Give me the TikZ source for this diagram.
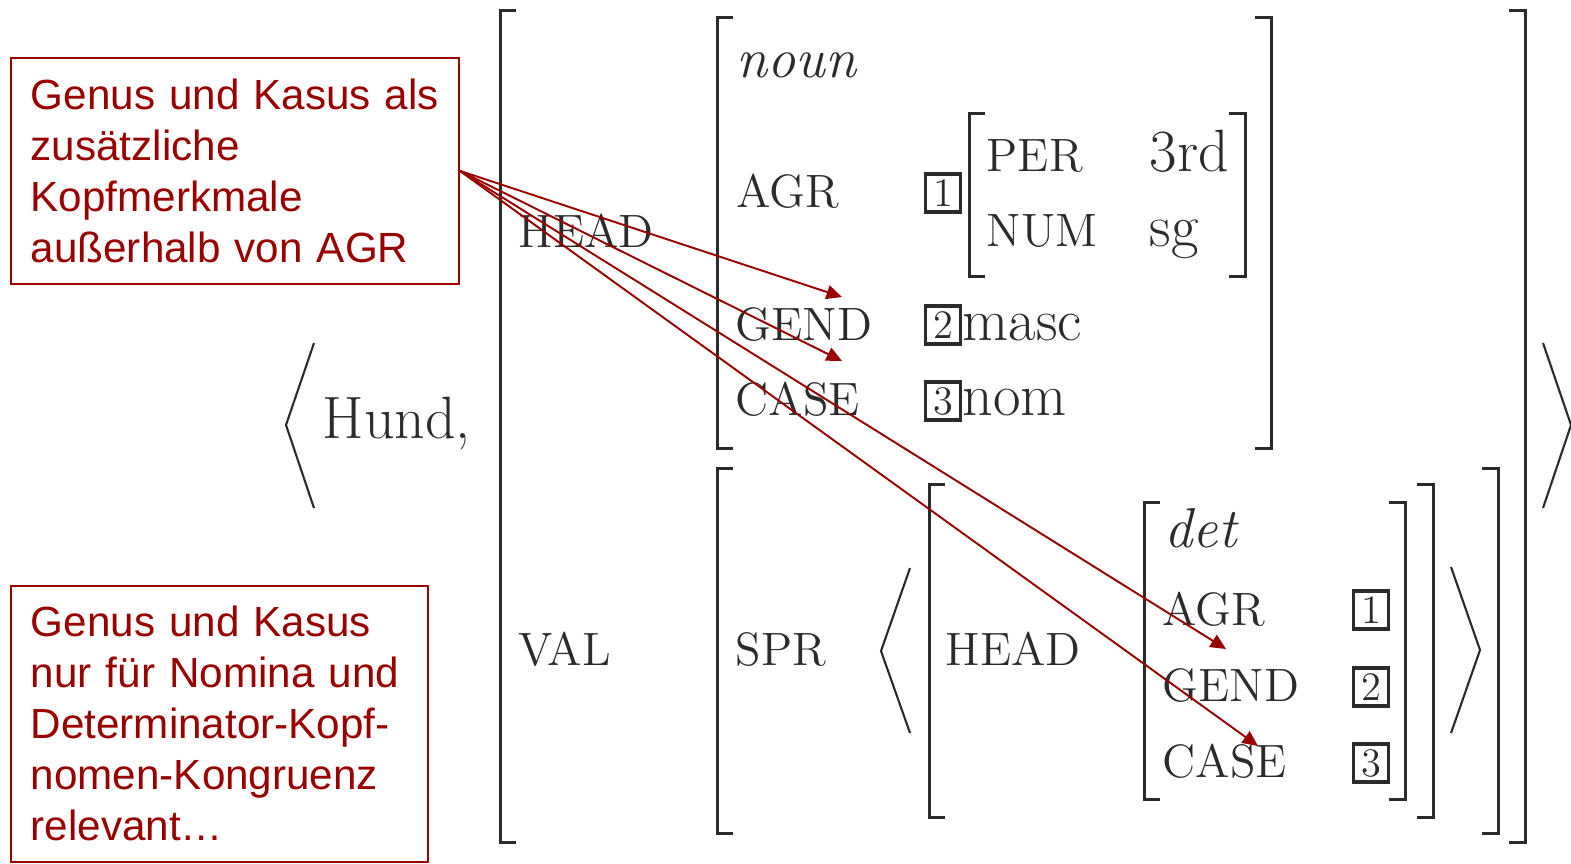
\documentclass[tikz,border=0pt]{standalone}
\usepackage{fontspec}
\newfontfamily\notefont{Liberation Sans}
\usetikzlibrary{arrows.meta}
\definecolor{notered}{HTML}{990000}
\definecolor{avmgray}{HTML}{2B2B2B}
\begin{document}
\begin{tikzpicture}[x=0.01cm,y=-0.01cm,>={Triangle[length=4.4pt,width=4pt]},
	feat/.style={inner sep=0pt,anchor=base west,text=avmgray,font=\fontsize{13.3}{16}\selectfont},
	val/.style={inner sep=0pt,anchor=base west,text=avmgray,font=\fontsize{17}{20}\selectfont},
	sort/.style={val,font=\fontsize{16}{19}\selectfont\itshape},
	tag/.style={draw=avmgray,line width=0.95pt,inner sep=0pt,minimum width=0.35cm,minimum height=0.38cm,text=avmgray,font=\fontsize{11.5}{13}\selectfont},
	brk/.style={avmgray,line width=0.85pt},
	ang/.style={avmgray,line width=0.6pt},
	note/.style={draw=notered,line width=0.45pt,text=notered,align=left,inner xsep=0.2cm,anchor=north west,font=\notefont\fontsize{12}{14.5}\selectfont},
	pointer/.style={->,notered,line width=0.55pt}]
	\useasboundingbox (0,0) rectangle (1571,863);
	% square brackets: left/right/top/bottom
	\foreach \l/\r/\t/\b in {500/1525/10/842,717/1271/17/448,969/1245/113/276,717/1498/468/833,929/1433/484/817,1144/1405/502/799}{
		\draw[brk] (\l+16,\t)--(\l,\t)--(\l,\b)--(\l+16,\b);
		\draw[brk] (\r-16,\t)--(\r,\t)--(\r,\b)--(\r-16,\b);
	}
	% angle brackets
	\draw[ang] (314,343)--(286,425)--(314,508);
	\draw[ang] (1543,343)--(1571,425)--(1543,508);
	\draw[ang] (910,568)--(881,651)--(910,733);
	\draw[ang] (1451,567)--(1480,650)--(1451,733);
	\node[val] (hund) at (322,438) {Hund,};
	\node[feat] (head) at (518,247) {HEAD};
	\node[sort] (noun) at (736,77) {noun};
	\node[feat] (agr) at (736,207) {AGR};
	\node[tag] (tagA) at (943,193) {1};
	\node[feat] (per) at (986,171) {PER};
	\node[val] (third) at (1149,171) {3rd};
	\node[feat] (num) at (986,246) {NUM};
	\node[val] (sg) at (1149,246) {sg};
	\node[feat] (gend) at (735,340) {GEND};
	\node[tag] (tagB) at (943,325) {2};
	\node[val] (masc) at (962,340) {masc};
	\node[feat] (case) at (735,415) {CASE};
	\node[tag] (tagC) at (943,401) {3};
	\node[val] (nom) at (962,415) {nom};
	\node[feat] (val) at (518,665) {VAL};
	\node[feat] (spr) at (735,665) {SPR};
	\node[feat] (headB) at (945,665) {HEAD};
	\node[sort] (det) at (1164,547) {det};
	\node[feat] (agrB) at (1162,625) {AGR};
	\node[feat] (gendB) at (1162,701) {GEND};
	\node[feat] (caseB) at (1162,777) {CASE};
	\node[tag] (tagAB) at (1371,610) {1};
	\node[tag] (tagBB) at (1371,687) {2};
	\node[tag] (tagCB) at (1371,763) {3};
	% notes
	\node[note,text width=4.08cm,minimum width=4.48cm,minimum height=2.26cm] (noteA) at (10,57) {Genus und Kasus als\\zusätzliche\\Kopfmerkmale\\außerhalb von AGR};
	\node[note,text width=3.77cm,minimum width=4.17cm,minimum height=2.76cm] (noteB) at (10,585) {Genus und Kasus\\nur für Nomina und\\Determinator-Kopf-\\nomen-Kongruenz\\relevant…};
	\coordinate (gendTip) at (842,297);
	\coordinate (caseTip) at (842,361);
	\coordinate (agrTip) at (1226,649);
	\coordinate (caseTipB) at (1258,746);
	\foreach \t in {gendTip,caseTip,agrTip,caseTipB}
		\draw[pointer] (noteA.east)--(\t);
\end{tikzpicture}
\end{document}
